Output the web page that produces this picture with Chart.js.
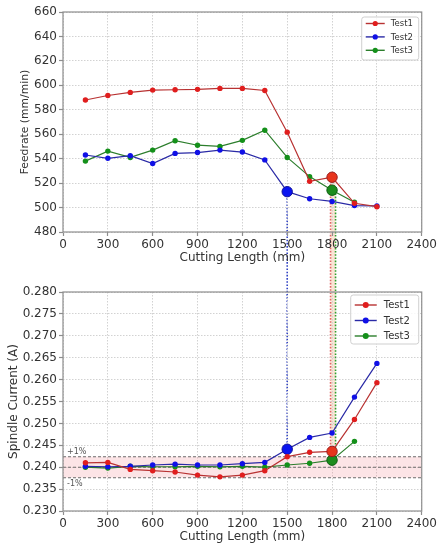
<!DOCTYPE html>
<html>
<head>
<meta charset="utf-8">
<script src="https://cdn.jsdelivr.net/npm/chart.js@4/dist/chart.umd.min.js"></script>
<style>
  html, body { margin: 0; padding: 0; background: #fff; }
  #wrap { position: relative; width: 439px; height: 548px; overflow: hidden; }
  #wrap canvas { position: absolute; left: 0; }
</style>
</head>
<body>
<div id="wrap">
  <canvas id="links" width="439" height="548" style="top:0"></canvas>
  <canvas id="feed" width="439" height="274" style="top:0"></canvas>
  <canvas id="current" width="439" height="274" style="top:274px"></canvas>
</div>
<script>
// Cutting length of each measurement (mm)
const lengths = [150, 300, 450, 600, 750, 900, 1050, 1200, 1350, 1500, 1650, 1800, 1950, 2100];
const seriesNames = ['Test1', 'Test2', 'Test3'];

// Feedrate (mm/min)
const feedTest1 = [588, 591.7, 594.2, 596.1, 596.4, 596.7, 597.5, 597.5, 595.8, 561.7, 521.5, 524.8, 503.5, 500.7];
const feedTest2 = [543, 540.3, 542.4, 536, 544.3, 545, 547, 545.4, 539, 513, 507.2, 505, 501.6, 501.3];
const feedTest3 = [538, 546.2, 541, 547, 554.7, 551, 550, 555, 563.3, 541, 525.3, 514.2, 504.3];

// Spindle current (A)
const currentTest1 = [0.2410, 0.2411, 0.2395, 0.2392, 0.2389, 0.2382, 0.2378, 0.2382, 0.2392, 0.2424, 0.2434, 0.2436, 0.2509, 0.2593];
const currentTest2 = [0.2402, 0.2401, 0.2402, 0.2405, 0.2407, 0.2405, 0.2405, 0.2408, 0.2411, 0.2441, 0.2468, 0.2478, 0.2560, 0.2637];
const currentTest3 = [0.2400, 0.2398, 0.2402, 0.2401, 0.2401, 0.2402, 0.2401, 0.2402, 0.2400, 0.2405, 0.2409, 0.2416, 0.2459];

// Length at which each test's feedrate change is flagged
const markedAt = [1800, 1500, 1800];

// Nominal current and tolerance band
const nominalCurrent = 0.240;
const tolerance = 0.01;

// Axis ticks
const lengthTicks = [0, 300, 600, 900, 1200, 1500, 1800, 2100, 2400];
const feedTicks = [480, 500, 520, 540, 560, 580, 600, 620, 640, 660];
const currentTicks = [0.230, 0.235, 0.240, 0.245, 0.250, 0.255, 0.260, 0.265, 0.270, 0.275, 0.280];

const feedSeries = [feedTest1, feedTest2, feedTest3];
const currentSeries = [currentTest1, currentTest2, currentTest3];

const FONT = "'DejaVu Sans', sans-serif";
const palette = [
  { point: '#e01e1e', line: '#b83232', edge: '#9a1c1c', big: '#e8341c' },
  { point: '#1010e6', line: '#2a2aa6', edge: '#10109a', big: '#0a14f0' },
  { point: '#14901a', line: '#2c7e2c', edge: '#0c5c10', big: '#1c8c1c' }
];
const linkColors = ['#e06666', '#3344c4', '#2ea02e'];
const linkOffsets = [-1.5, 0, 3.5];

function buildDatasets(series) {
  return series.map((vals, i) => ({
    label: seriesNames[i],
    data: vals.map((v, k) => ({ x: lengths[k], y: v })),
    borderColor: palette[i].line,
    borderWidth: 1.2,
    backgroundColor: palette[i].point,
    pointRadius: ctx => (lengths[ctx.dataIndex] === markedAt[i] ? 5.2 : 2.7),
    pointBorderWidth: ctx => (lengths[ctx.dataIndex] === markedAt[i] ? 1 : 0),
    pointBorderColor: palette[i].edge,
    pointBackgroundColor: ctx => (lengths[ctx.dataIndex] === markedAt[i] ? palette[i].big : palette[i].point),
    pointHoverRadius: 5,
    tension: 0
  }));
}

// Frame around the plotting area
const frame = {
  id: 'frame',
  afterDraw(chart) {
    const a = chart.chartArea, ctx = chart.ctx;
    ctx.save();
    ctx.strokeStyle = '#8e8e8e';
    ctx.lineWidth = 1.2;
    ctx.strokeRect(a.left, a.top, a.right - a.left, a.bottom - a.top);
    ctx.restore();
  }
};

// Boxed legend inside the top-right corner of the plot
const insideLegend = {
  id: 'insideLegend',
  afterDatasetsDraw(chart, args, o) {
    const ctx = chart.ctx, a = chart.chartArea;
    const right = a.right - 3, top = a.top + o.top;
    const left = right - o.width;
    ctx.save();
    ctx.fillStyle = 'rgba(255,255,255,0.85)';
    ctx.strokeStyle = '#cfcfcf';
    ctx.lineWidth = 1;
    ctx.beginPath();
    ctx.roundRect(left, top, o.width, o.height, 2.5);
    ctx.fill();
    ctx.stroke();
    ctx.font = o.font + 'px ' + FONT;
    ctx.textBaseline = 'middle';
    chart.data.datasets.forEach((ds, i) => {
      const y = top + o.first + i * o.row;
      const x0 = left + 4, x1 = x0 + o.line;
      ctx.strokeStyle = palette[i].line;
      ctx.lineWidth = 1.4;
      ctx.beginPath(); ctx.moveTo(x0, y); ctx.lineTo(x1, y); ctx.stroke();
      ctx.fillStyle = palette[i].point;
      ctx.beginPath(); ctx.arc((x0 + x1) / 2, y, o.dot, 0, Math.PI * 2); ctx.fill();
      ctx.fillStyle = '#333';
      ctx.fillText(ds.label, x1 + o.gap, y + 0.5);
    });
    ctx.restore();
  }
};

// Tolerance band around the nominal current
const toleranceBand = {
  id: 'toleranceBand',
  beforeDatasetsDraw(chart) {
    const ctx = chart.ctx, a = chart.chartArea, y = chart.scales.y;
    const hi = nominalCurrent * (1 + tolerance), lo = nominalCurrent * (1 - tolerance);
    const yHi = y.getPixelForValue(hi), yLo = y.getPixelForValue(lo), yMid = y.getPixelForValue(nominalCurrent);
    ctx.save();
    ctx.fillStyle = 'rgba(238,120,132,0.2)';
    ctx.fillRect(a.left, yHi, a.right - a.left, yLo - yHi);
    ctx.strokeStyle = '#6e6e6e';
    ctx.lineWidth = 1.1;
    ctx.setLineDash([3, 2]);
    [yHi, yMid, yLo].forEach(p => {
      ctx.beginPath(); ctx.moveTo(a.left, p); ctx.lineTo(a.right, p); ctx.stroke();
    });
    ctx.setLineDash([]);
    ctx.fillStyle = '#555';
    ctx.font = '8px ' + FONT;
    ctx.textBaseline = 'middle';
    const pct = Math.round(tolerance * 100);
    ctx.fillText('+' + pct + '%', a.left + 4, yHi - 5);
    ctx.fillText('-' + pct + '%', a.left + 4, yLo + 6);
    ctx.restore();
  }
};

function axisOptions(ticks, fmt, titleText, titleFont, titlePad, fitWidth, fitHeight, isX) {
  return {
    type: 'linear',
    min: ticks[0],
    max: ticks[ticks.length - 1],
    afterBuildTicks: s => { s.ticks = ticks.map(v => ({ value: v })); },
    afterFit: s => { if (isX) s.height = fitHeight; else s.width = fitWidth; },
    ticks: {
      callback: fmt,
      color: '#333',
      font: { family: FONT, size: 12 },
      padding: 2,
      autoSkip: false,
      maxRotation: 0
    },
    grid: {
      color: '#d2d2d2',
      lineWidth: 1,
      tickLength: 4,
      tickColor: '#8e8e8e',
      tickWidth: 1.2
    },
    border: { display: false, dash: [1.5, 1.5] },
    title: {
      display: true,
      text: titleText,
      color: '#333',
      font: { family: FONT, size: titleFont },
      padding: titlePad
    }
  };
}

const feedChart = new Chart(document.getElementById('feed'), {
  type: 'line',
  data: { datasets: buildDatasets(feedSeries) },
  options: {
    responsive: false,
    animation: false,
    devicePixelRatio: 1,
    layout: { padding: { left: 0, right: 15, top: 12, bottom: 0 } },
    plugins: {
      legend: { display: false },
      tooltip: { enabled: false },
      insideLegend: { top: 5, width: 57, height: 43, first: 6.5, row: 13.4, font: 8.5, line: 19, dot: 2.6, gap: 6 }
    },
    scales: {
      x: axisOptions(lengthTicks, v => String(v), 'Cutting Length (mm)', 12, { top: 0, bottom: 8.8 }, 0, 42, true),
      y: axisOptions(feedTicks, v => String(v), 'Feedrate (mm/min)', 10.8, { top: 18.5, bottom: 0 }, 63, 0, false)
    }
  },
  plugins: [frame, insideLegend]
});

const currentChart = new Chart(document.getElementById('current'), {
  type: 'line',
  data: { datasets: buildDatasets(currentSeries) },
  options: {
    responsive: false,
    animation: false,
    devicePixelRatio: 1,
    layout: { padding: { left: 0, right: 15, top: 18, bottom: 0 } },
    plugins: {
      legend: { display: false },
      tooltip: { enabled: false },
      insideLegend: { top: 3, width: 68, height: 49, first: 10, row: 15.5, font: 10, line: 22, dot: 3, gap: 7 }
    },
    scales: {
      x: axisOptions(lengthTicks, v => String(v), 'Cutting Length (mm)', 12, { top: 0, bottom: 3.8 }, 0, 37, true),
      y: axisOptions(currentTicks, v => v.toFixed(3), 'Spindle Current (A)', 12, { top: 7, bottom: 0 }, 63, 0, false)
    }
  },
  plugins: [frame, toleranceBand, insideLegend]
});

// Dotted links from each flagged feedrate point down to its current reading
(function drawLinks() {
  const canvas = document.getElementById('links');
  const ctx = canvas.getContext('2d');
  const fx = feedChart.scales.x, fy = feedChart.scales.y;
  const cy = currentChart.scales.y;
  const offsetTop = 274;
  const segs = markedAt.map((len, i) => {
    const k = lengths.indexOf(len);
    return {
      x: fx.getPixelForValue(len) + linkOffsets[i],
      y1: fy.getPixelForValue(feedSeries[i][k]),
      y2: offsetTop + cy.getPixelForValue(currentSeries[i][k])
    };
  });
  // pale shading between the two links at the same length
  const a = segs[0], b = segs[2];
  ctx.fillStyle = 'rgba(246,196,160,0.45)';
  ctx.fillRect(a.x, Math.min(a.y1, b.y1), b.x - a.x, Math.max(a.y2, b.y2) - Math.min(a.y1, b.y1));
  ctx.lineWidth = 1.6;
  ctx.setLineDash([1.6, 1.6]);
  segs.forEach((s, i) => {
    ctx.strokeStyle = linkColors[i];
    ctx.beginPath();
    ctx.moveTo(s.x, s.y1);
    ctx.lineTo(s.x, s.y2);
    ctx.stroke();
  });
})();
</script>
</body>
</html>
